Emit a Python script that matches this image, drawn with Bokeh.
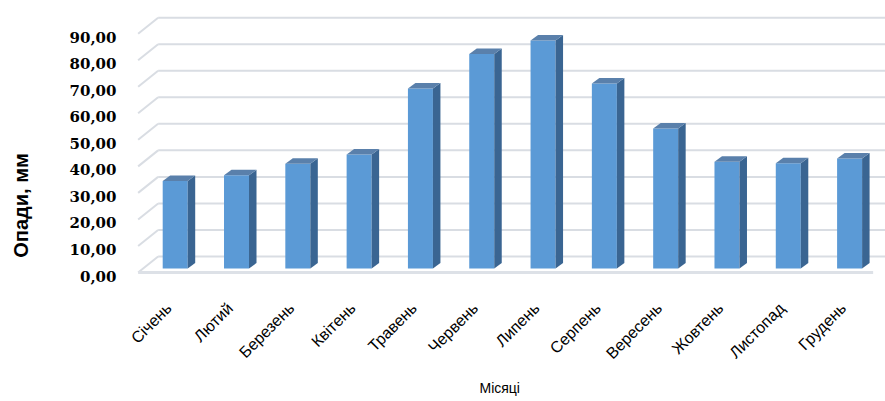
from math import pi
from bokeh.plotting import figure
from bokeh.layouts import row
from bokeh.models import (FactorRange, Range1d, LinearAxis, FixedTicker,
                          CustomJSTickFormatter, Title, ColumnDataSource)
from bokeh.transform import dodge
from bokeh.core.properties import value
from bokeh.embed import file_html
from bokeh.resources import INLINE

# ---- data ----
months = ["Січень", "Лютий", "Березень", "Квітень", "Травень", "Червень",
          "Липень", "Серпень", "Вересень", "Жовтень", "Листопад", "Грудень"]
precip = [33.0, 35.1, 39.5, 43.0, 67.8, 80.8, 85.9, 69.7, 52.8, 40.2, 39.7, 41.5]
y_ticks = [0, 10, 20, 30, 40, 50, 60, 70, 80, 90]
y_title = "Опади, мм"
x_title = "Місяці"

# ---- geometry (pixels -> data units) ----
W, H = 885, 401
TW = 40                          # width of the strip holding the y title
FRAME_L, FRAME_T, FRAME_B = 126, 10, 276
PAD = 0.19                      # category units of padding
K = 2.6533                      # px per mm
Y0_PX = 272                     # pixel of 0 on the front floor edge
Y_START = -(FRAME_B - Y0_PX) / K
Y_END = Y_START + (FRAME_B - FRAME_T) / K
CAT_PX = (W - FRAME_L) / (len(months) + 2 * PAD)

SHIFT = 4 / K                   # bars stand slightly behind the front edge
OFF = 6.4 / CAT_PX              # front face offset inside category
HW = 12.5 / CAT_PX              # half width of front face
DX = 7.5 / CAT_PX               # bar depth (x)
DY = 5.5 / K                    # bar depth (y)
WALL_DX = 20 / CAT_PX           # side wall depth
WALL_DY = 16 / K
WALL_END = len(months) + PAD
FLOOR_END = (873 - 138) / CAT_PX

p = figure(width=W - TW, height=H,
           x_range=FactorRange(factors=months, range_padding=PAD,
                               range_padding_units="absolute"),
           y_range=Range1d(Y_START, Y_END), output_backend="svg",
           toolbar_location=None, y_axis_location=None,
           min_border_left=FRAME_L - TW, min_border_right=0, min_border_top=FRAME_T,
           min_border_bottom=H - FRAME_B)
p.outline_line_color = None
p.xgrid.visible = False
p.ygrid.visible = False
p.background_fill_color = "white"
p.border_fill_color = "white"

# y axis labels (slightly below the front gridline ends, as in the reference)
LBL_SHIFT = 3.5 / K
p.extra_y_ranges = {"lbl": Range1d(Y_START + LBL_SHIFT, Y_END + LBL_SHIFT)}
yax = LinearAxis(y_range_name="lbl", ticker=FixedTicker(ticks=y_ticks),
                 formatter=CustomJSTickFormatter(code="return tick.toFixed(2).replace('.', ',')"))
yax.axis_line_color = None
yax.major_tick_line_color = None
yax.minor_tick_line_color = None
yax.major_label_standoff = 4
yax.major_label_text_font = "DejaVu Serif"
yax.major_label_text_font_style = "bold"
yax.major_label_text_font_size = "15px"
yax.major_label_text_color = "#000000"
p.add_layout(yax, "left")

xax = p.xaxis[0]
xax.axis_line_color = None
xax.major_tick_line_color = None
xax.minor_tick_line_color = None
xax.major_label_orientation = pi / 4
xax.major_label_standoff = 23
xax.major_label_text_font = "Liberation Sans"
xax.major_label_text_font_size = "16px"
xax.major_label_text_color = "#000000"

# ---- walls / gridlines ----
grid_src = ColumnDataSource(dict(
    x0=[0.0] * len(y_ticks), y0=y_ticks,
    x1=[WALL_DX] * len(y_ticks), y1=[t + WALL_DY for t in y_ticks],
    x2=[WALL_END] * len(y_ticks)))
p.segment(x0="x0", y0="y0", x1="x1", y1="y1", source=grid_src,
          line_color="#d9dde3", line_width=2)
p.segment(x0="x1", y0="y1", x1="x2", y1="y1", source=grid_src,
          line_color="#d9dde3", line_width=2)
p.segment(x0=[0.0], y0=[0.0], x1=[FLOOR_END], y1=[0.0],
          line_color="#dde1e7", line_width=3)

# ---- bars ----
idx = list(range(len(months)))
base = [SHIFT] * len(months)
tops = [v + SHIFT for v in precip]
src = ColumnDataSource(dict(month=months, top=tops, bottom=base))
p.vbar(x=dodge("month", OFF, range=p.x_range), top="top", bottom="bottom",
       width=2 * HW, source=src, fill_color="#5b9ad6", line_color=None)

side_xs, side_ys, top_xs, top_ys = [], [], [], []
for i, v in zip(idx, precip):
    c = i + 0.5 + OFF
    l, r = c - HW, c + HW
    t = v + SHIFT
    side_xs.append([r, r + DX, r + DX, r])
    side_ys.append([SHIFT, SHIFT + DY, t + DY, t])
    top_xs.append([l, r, r + DX, l + DX])
    top_ys.append([t, t, t + DY, t + DY])
p.patches(side_xs, side_ys, fill_color="#3a6592", line_color=None)
p.patches(top_xs, top_ys, fill_color="#5a80ab", line_color=None)

# ---- x axis title ----
p.add_layout(Title(text=x_title, align="left", offset=355 - 2, standoff=12,
                   text_font="Liberation Sans", text_font_style="normal",
                   text_font_size="14px", text_color="#000000"), "below")

# ---- y axis title in a narrow strip on the left ----
# (the row aligns this strip's frame with the chart frame, so its y range is
#  expressed in the same pixel rows as the chart frame)
t = figure(width=TW, height=H, x_range=Range1d(0, TW), y_range=Range1d(FRAME_B, FRAME_T),
           output_backend="svg", toolbar_location=None,
           x_axis_location=None, y_axis_location=None,
           min_border_left=0, min_border_right=0, min_border_top=0, min_border_bottom=0)
t.outline_line_color = None
t.xgrid.visible = False
t.ygrid.visible = False
t.background_fill_color = "white"
t.border_fill_color = "white"
t.text(x=[20], y=[205], text=[y_title], angle=pi / 2, text_align="center",
       text_baseline="middle", text_font=value("Liberation Sans"),
       text_font_style="bold", text_font_size="20px", text_color="#000000")

layout = row(t, p, spacing=0)
open("out.html", "w").write(file_html(layout, INLINE))
